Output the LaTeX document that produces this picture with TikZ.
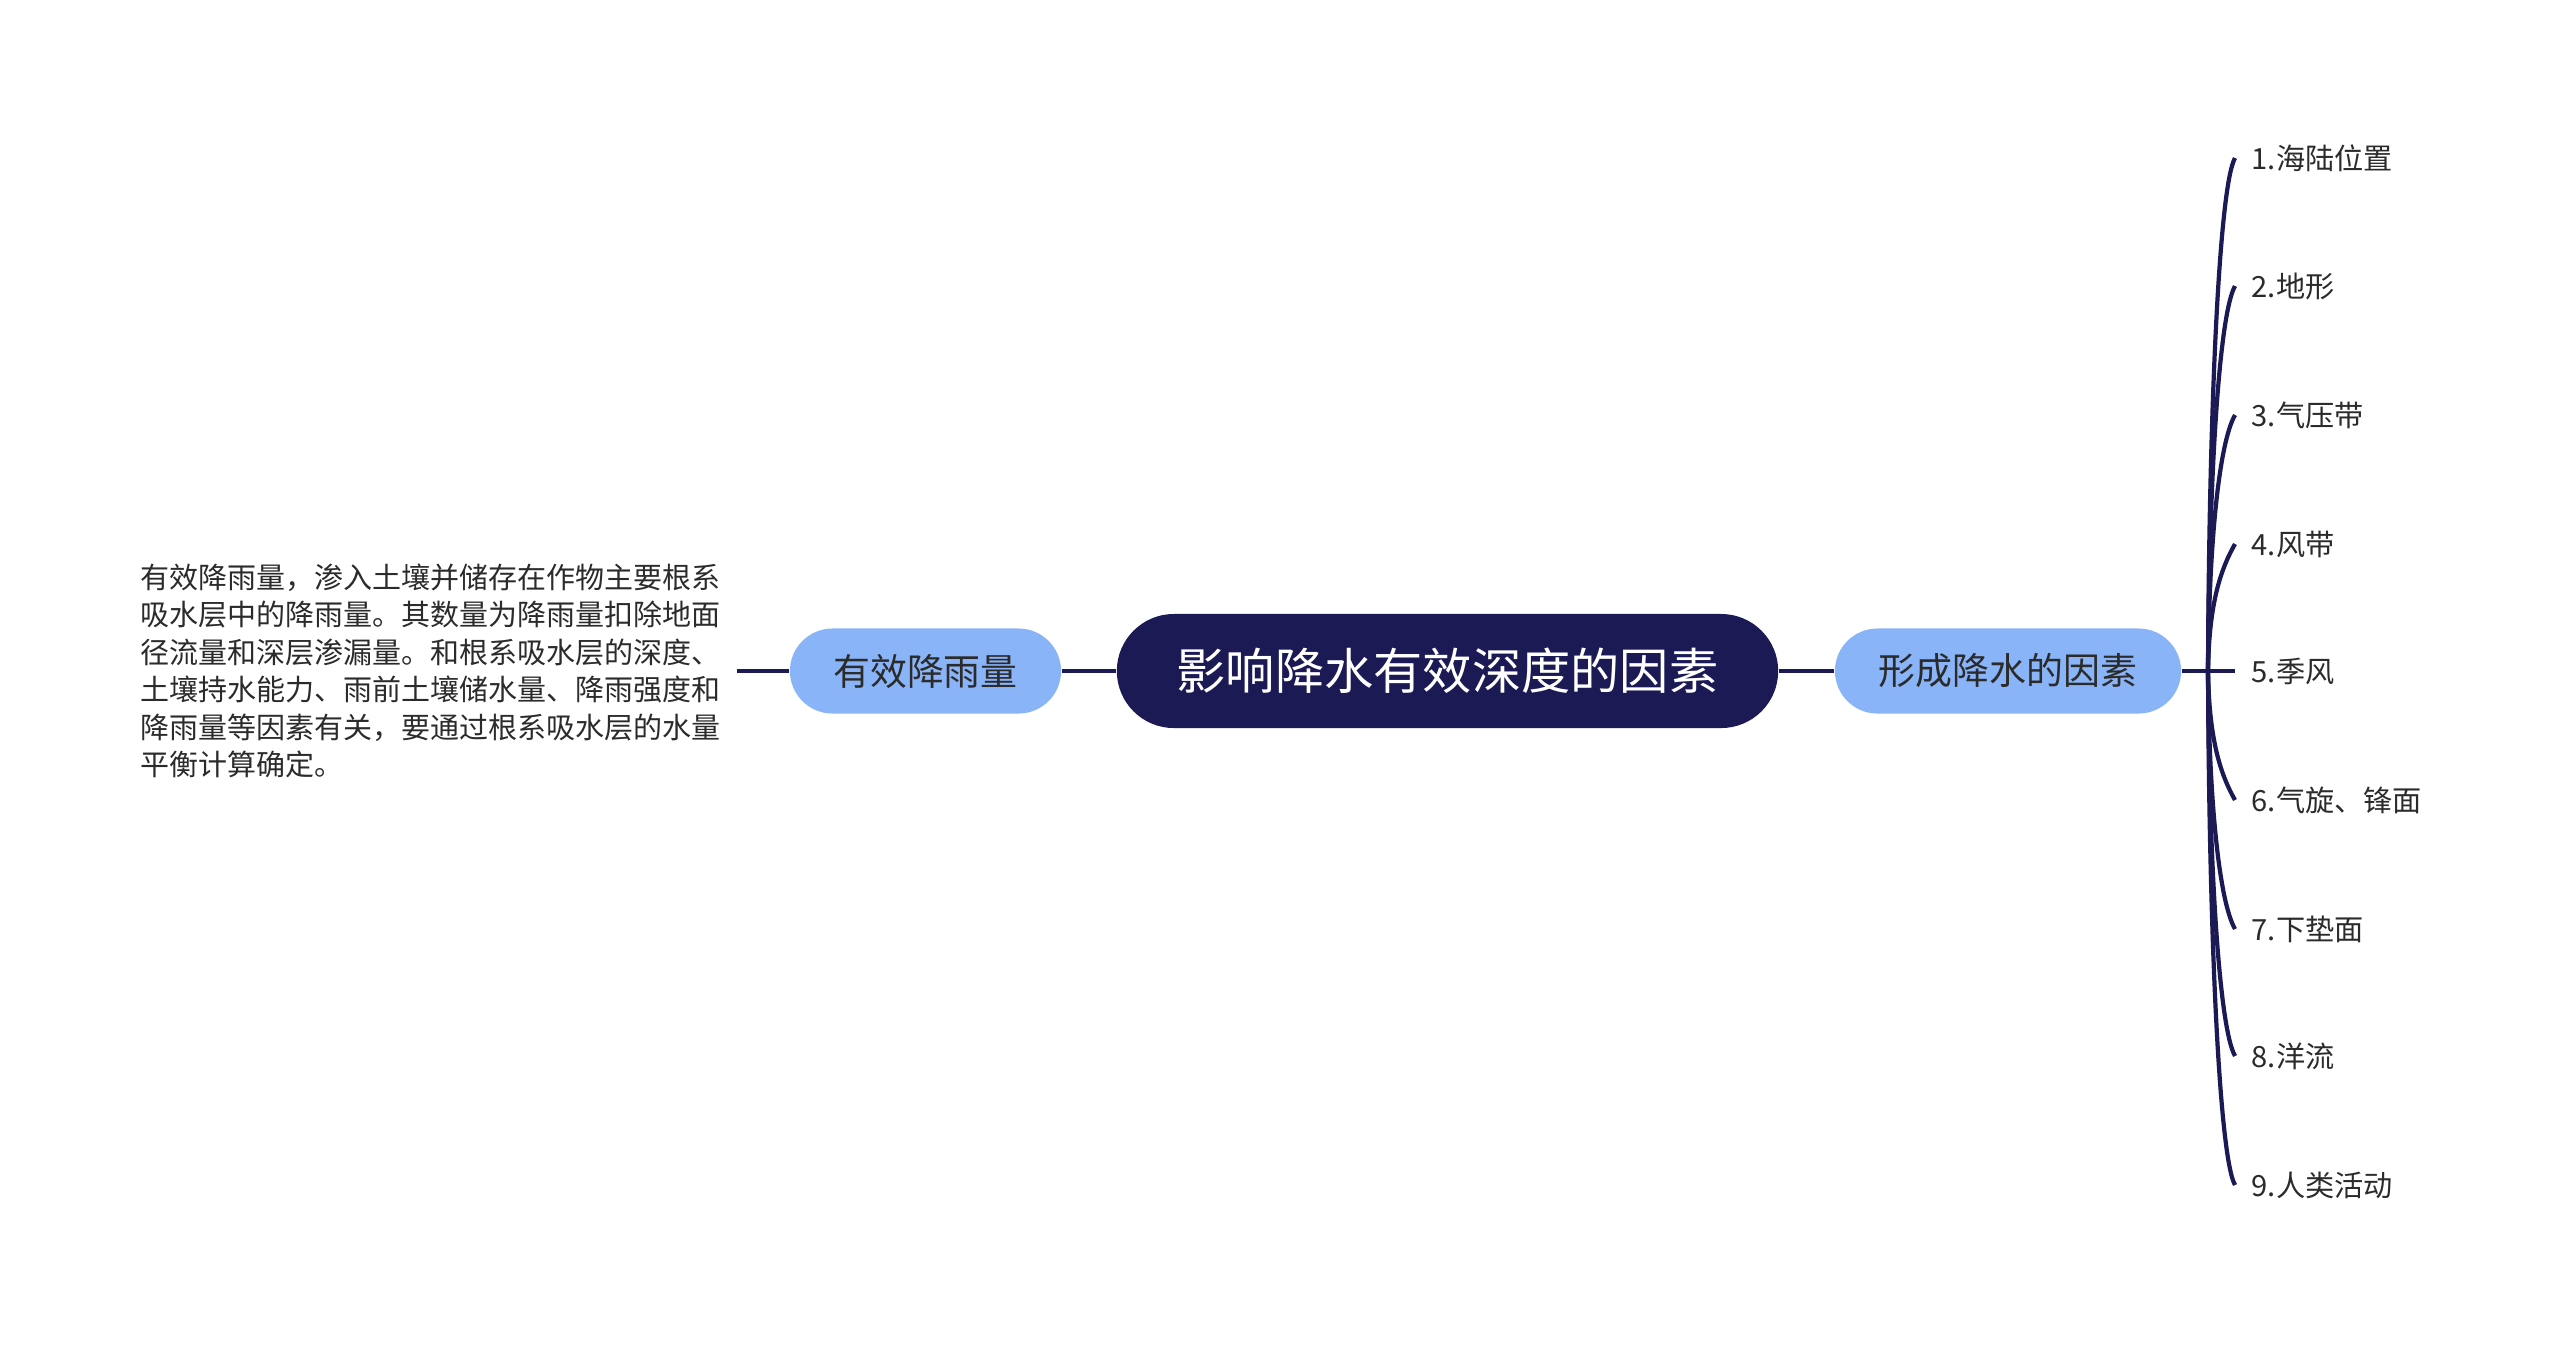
\documentclass[tikz,border=0pt]{standalone}
\usepackage{fontspec}
\setmainfont{Noto Sans CJK SC}
\usetikzlibrary{positioning}
\definecolor{navy}{HTML}{1B1A55}
\definecolor{lblue}{HTML}{8AB4F8}
\definecolor{txt}{HTML}{2B2B2B}
\tikzset{
  conn/.style={draw=navy, line width=1.2pt},
  rootnode/.style={fill=navy, text=white, minimum width=6.61cm, minimum height=1.14cm, rounded corners=0.57cm, font=\fontsize{14pt}{16pt}\selectfont, inner sep=0},
  subnode/.style={fill=lblue, text=txt, minimum height=0.85cm, rounded corners=0.425cm, font=\fontsize{10.5pt}{12pt}\selectfont, inner sep=0},
  item/.style={anchor=west, text=txt, inner xsep=0.16cm, inner ysep=0, font=\fontsize{8.3pt}{10pt}\selectfont},
  para/.style={anchor=west, text=txt, inner xsep=0, inner ysep=0, text width=5.95cm, align=left, font=\fontsize{8.25pt}{10.67pt}\selectfont}
}
\begin{document}
\begin{tikzpicture}[x=0.01cm, y=-0.01cm]
\useasboundingbox (0,0) rectangle (2560,1344);
\node[rootnode] (root) at (1447.5,671) {影响降水有效深度的因素};
\node[subnode, minimum width=2.71cm] (left) at (925.5,671) {有效降雨量};
\node[subnode, minimum width=3.46cm] (right) at (2008,671) {形成降水的因素};
\node[para] (desc) at (140,671) {有效降雨量，渗入土壤并储存在作物主要根系\\吸水层中的降雨量。其数量为降雨量扣除地面\\径流量和深层渗漏量。和根系吸水层的深度、\\土壤持水能力、雨前土壤储水量、降雨强度和\\降雨量等因素有关，要通过根系吸水层的水量\\平衡计算确定。};
\draw[conn] (desc.east) -- (left.west);
\draw[conn] (left.east) -- (root.west);
\draw[conn] (root.east) -- (right.west);
\coordinate (hub) at (2208,671);
\draw[conn] (right.east) -- (hub);
\foreach \i/\y/\t in {1/158/1.海陆位置, 2/286/2.地形, 3/415/3.气压带, 4/544/4.风带, 5/671/5.季风, 6/800/6.气旋、锋面, 7/929/7.下垫面, 8/1056/8.洋流, 9/1185/9.人类活动}{
  \node[item] (it\i) at (2235,\y) {\t};
}
\draw[conn] (hub) -- (it5.west);
\foreach \i/\y in {1/158, 2/286, 3/415, 4/544, 6/800, 7/929, 8/1056, 9/1185}{
  \pgfmathsetmacro{\ya}{671+(\y-671)*0.5}
  \pgfmathsetmacro{\yb}{\y+(\y<671 ? 28 : -28)}
  \draw[conn] (hub) .. controls (2209,\ya) and (2219,\yb) .. (it\i.west);
}
\end{tikzpicture}
\end{document}
